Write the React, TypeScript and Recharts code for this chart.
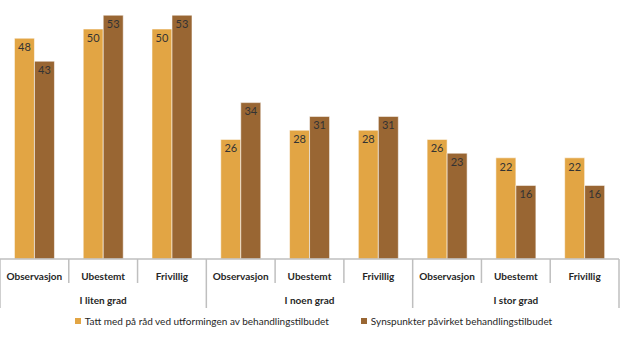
import { BarChart, Bar, XAxis, YAxis, Legend, LabelList } from "recharts";

// Values
const categories = ["Observasjon", "Ubestemt", "Frivillig", "Observasjon", "Ubestemt", "Frivillig", "Observasjon", "Ubestemt", "Frivillig"];
const groups = ["I liten grad", "I noen grad", "I stor grad"];
const tattMed = [48, 50, 50, 26, 28, 28, 26, 22, 22];
const synspunkter = [43, 53, 53, 34, 31, 31, 23, 16, 16];

const SERIES = [
  { key: "tattMed", name: "Tatt med på råd ved utformingen av behandlingstilbudet", color: "#E2A544" },
  { key: "synspunkter", name: "Synspunkter påvirket behandlingstilbudet", color: "#996633" },
];

const WIDTH = 620;
const HEIGHT = 344;
const MARGIN = { top: 6, right: 1, left: 0, bottom: 0 };
const CAT_W = (WIDTH - MARGIN.left - MARGIN.right) / categories.length;
const FONT = "Lato, 'Open Sans', sans-serif";
const AXIS_GREY = "#bfbfbf";

const data = categories.map((cat, i) => ({
  cat,
  tattMed: tattMed[i],
  synspunkter: synspunkter[i],
}));

/**
 * Two-level category tick: category label, separator lines, group label
 */
function MultiLevelTick(props: any) {
  const { x, y, index, payload } = props;
  const left = x - CAT_W / 2;
  const right = x + CAT_W / 2;
  const groupStart = index % 3 === 0;
  const isLast = index === categories.length - 1;
  return (
    <g>
      <line x1={left} x2={left} y1={y} y2={y + (groupStart ? 49 : 24)} stroke={AXIS_GREY} strokeWidth={1.5} />
      {isLast && <line x1={right} x2={right} y1={y} y2={y + 49} stroke={AXIS_GREY} strokeWidth={1.5} />}
      <text x={x} y={y + 21} textAnchor="middle" fontSize={10} fontWeight={700} fill="#262626" fontFamily={FONT}>
        {payload.value}
      </text>
      {index % 3 === 1 && (
        <text x={x} y={y + 45} textAnchor="middle" fontSize={10} fontWeight={700} fill="#262626" fontFamily={FONT}>
          {groups[Math.floor(index / 3)]}
        </text>
      )}
    </g>
  );
}

function CustomLegend() {
  return (
    <div
      style={{
        boxSizing: "border-box",
        height: 35,
        display: "flex",
        justifyContent: "center",
        alignItems: "flex-start",
        gap: 32,
        fontFamily: FONT,
        fontSize: 10,
        color: "#262626",
        paddingTop: 6,
        paddingLeft: 8,
      }}
    >
      {SERIES.map((s) => (
        <div key={s.key} style={{ display: "flex", alignItems: "center", gap: 4 }}>
          <div style={{ width: 6, height: 6, backgroundColor: s.color }} />
          <span>{s.name}</span>
        </div>
      ))}
    </div>
  );
}

export default function App() {
  return (
    <div style={{ position: "absolute", left: 0, top: 0, width: WIDTH, height: HEIGHT, background: "#fff" }}>
      <BarChart width={WIDTH} height={HEIGHT} data={data} margin={MARGIN} barCategoryGap="21%" barGap={0}>
        <XAxis
          dataKey="cat"
          interval={0}
          height={50}
          tickSize={0}
          tickMargin={0}
          tickLine={false}
          axisLine={{ stroke: AXIS_GREY, strokeWidth: 1.5 }}
          tick={<MultiLevelTick />}
        />
        <YAxis hide domain={[0, 55]} />
        <Legend verticalAlign="bottom" content={<CustomLegend />} />
        {SERIES.map((s) => (
          <Bar key={s.key} dataKey={s.key} name={s.name} fill={s.color} stroke="rgba(255,255,255,0.55)" strokeWidth={1} isAnimationActive={false}>
            <LabelList dataKey={s.key} position="insideTop" offset={5} fontSize={11} fill="#333" fontFamily={FONT} />
          </Bar>
        ))}
      </BarChart>
    </div>
  );
}
